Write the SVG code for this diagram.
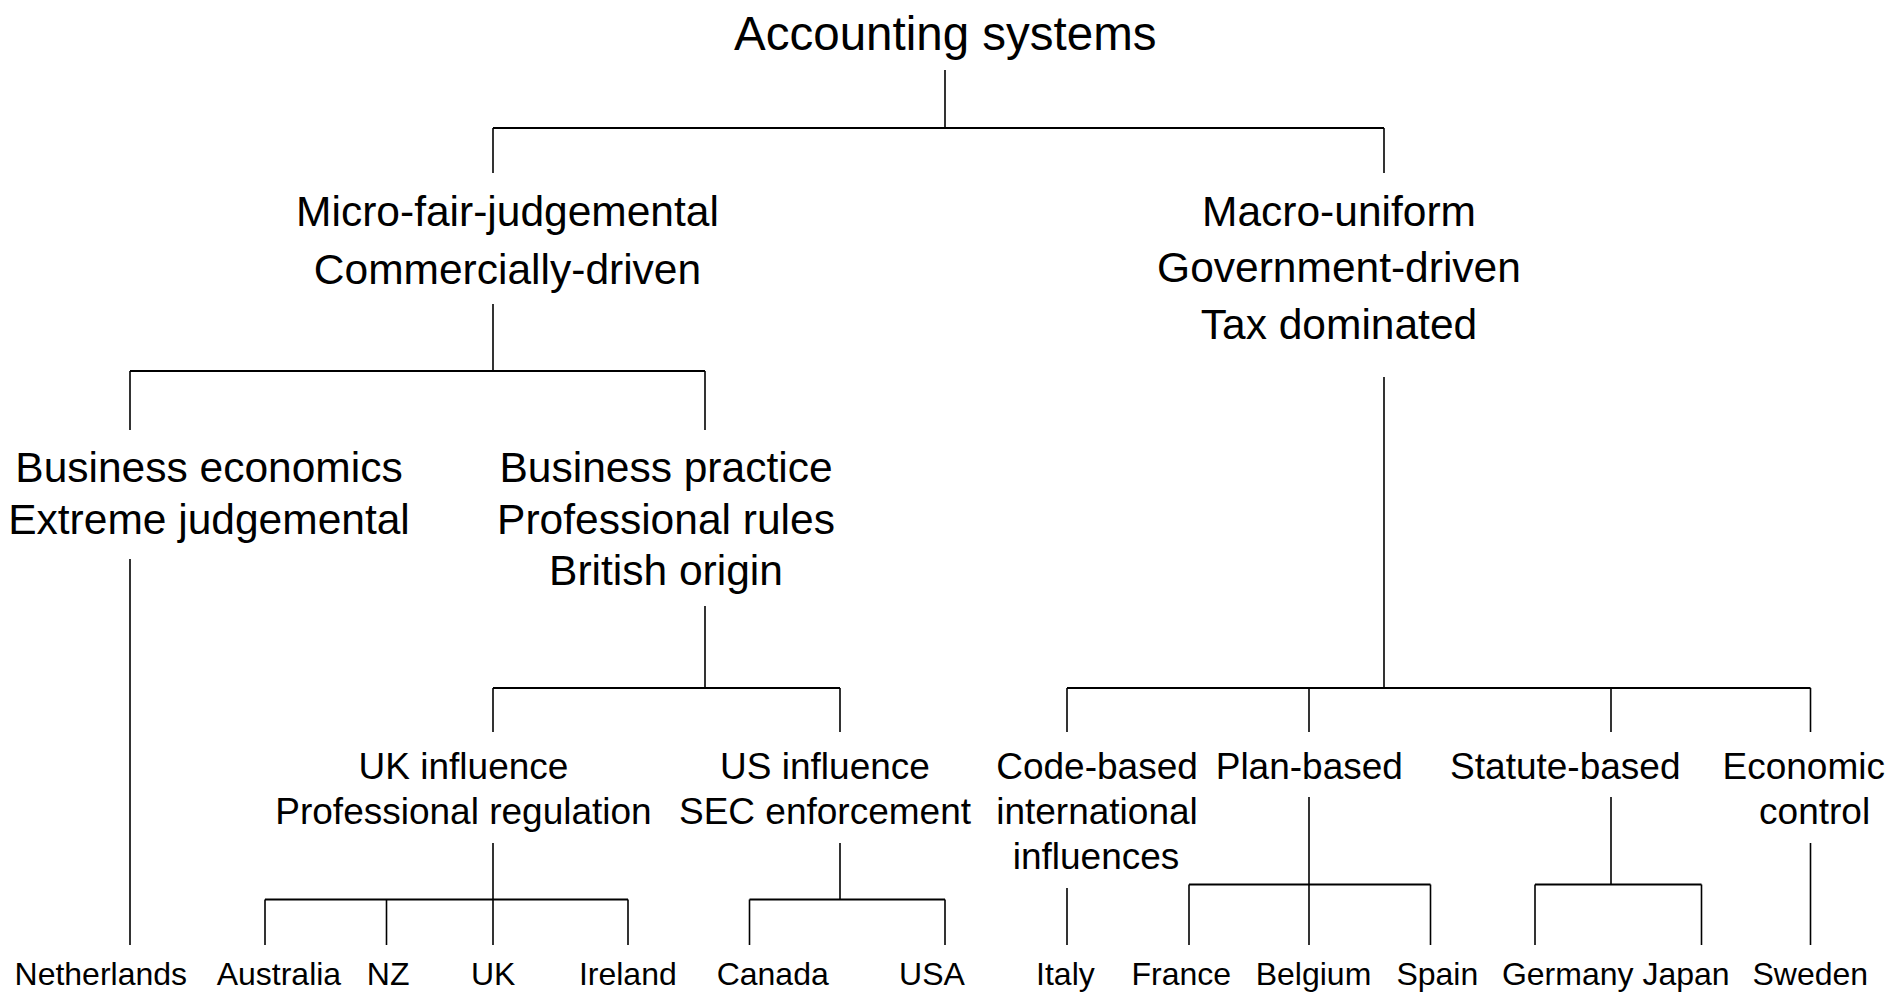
<svg xmlns="http://www.w3.org/2000/svg" width="1893" height="992" viewBox="0 0 1893 992">
  <style>
    text { font-family: "Liberation Sans", Arial, sans-serif; fill: #000; text-anchor: middle; }
    .t0 { font-size: 47.5px; }
    .t1 { font-size: 42.5px; }
    .t2 { font-size: 37px; }
    .t3 { font-size: 32px; }
    .h { stroke: #000; stroke-width: 2; fill: none; }
    .v { stroke: #000; stroke-width: 1.6; fill: none; }
  </style>
  <rect width="1893" height="992" fill="#fff"/>

  <!-- tree connectors -->
  <g id="connectors">
    <!-- root split -->
    <line class="v" x1="945" y1="70" x2="945" y2="128"/>
    <line class="h" x1="493" y1="128" x2="1384" y2="128"/>
    <line class="v" x1="493" y1="128" x2="493" y2="173"/>
    <line class="v" x1="1384" y1="128" x2="1384" y2="173"/>

    <!-- micro branch -->
    <line class="v" x1="493" y1="304" x2="493" y2="371"/>
    <line class="h" x1="130" y1="371" x2="705" y2="371"/>
    <line class="v" x1="130" y1="371" x2="130" y2="430"/>
    <line class="v" x1="705" y1="371" x2="705" y2="430"/>
    <line class="v" x1="130" y1="559" x2="130" y2="945"/>

    <!-- business practice branch -->
    <line class="v" x1="705" y1="606" x2="705" y2="688"/>
    <line class="h" x1="493" y1="688" x2="840" y2="688"/>
    <line class="v" x1="493" y1="688" x2="493" y2="732"/>
    <line class="v" x1="840" y1="688" x2="840" y2="732"/>

    <!-- UK influence -->
    <line class="v" x1="493" y1="843" x2="493" y2="899.5"/>
    <line class="h" x1="265" y1="899.5" x2="628" y2="899.5"/>
    <line class="v" x1="265" y1="899.5" x2="265" y2="945"/>
    <line class="v" x1="386.5" y1="899.5" x2="386.5" y2="945"/>
    <line class="v" x1="493" y1="899.5" x2="493" y2="945"/>
    <line class="v" x1="628" y1="899.5" x2="628" y2="945"/>

    <!-- US influence -->
    <line class="v" x1="840" y1="843" x2="840" y2="899.5"/>
    <line class="h" x1="749.5" y1="899.5" x2="945" y2="899.5"/>
    <line class="v" x1="749.5" y1="899.5" x2="749.5" y2="945"/>
    <line class="v" x1="945" y1="899.5" x2="945" y2="945"/>

    <!-- macro branch -->
    <line class="v" x1="1384" y1="377" x2="1384" y2="688"/>
    <line class="h" x1="1067" y1="688" x2="1810.5" y2="688"/>
    <line class="v" x1="1067" y1="688" x2="1067" y2="732"/>
    <line class="v" x1="1309" y1="688" x2="1309" y2="732"/>
    <line class="v" x1="1611" y1="688" x2="1611" y2="732"/>
    <line class="v" x1="1810.5" y1="688" x2="1810.5" y2="732"/>

    <!-- code-based -->
    <line class="v" x1="1067" y1="888" x2="1067" y2="945"/>

    <!-- plan-based -->
    <line class="v" x1="1309" y1="797" x2="1309" y2="945"/>
    <line class="h" x1="1189" y1="884.5" x2="1430.5" y2="884.5"/>
    <line class="v" x1="1189" y1="884.5" x2="1189" y2="945"/>
    <line class="v" x1="1430.5" y1="884.5" x2="1430.5" y2="945"/>

    <!-- statute-based -->
    <line class="v" x1="1611" y1="797" x2="1611" y2="884.5"/>
    <line class="h" x1="1535" y1="884.5" x2="1701.5" y2="884.5"/>
    <line class="v" x1="1535" y1="884.5" x2="1535" y2="945"/>
    <line class="v" x1="1701.5" y1="884.5" x2="1701.5" y2="945"/>

    <!-- economic control -->
    <line class="v" x1="1810.5" y1="843" x2="1810.5" y2="945"/>
  </g>

  <g id="root"><text class="t0" x="945.3" y="50">Accounting systems</text></g>

  <g id="micro">
    <text class="t1" x="507.5" y="225.5">Micro-fair-judgemental</text>
    <text class="t1" x="507.5" y="284">Commercially-driven</text>
  </g>
  <g id="macro">
    <text class="t1" x="1339" y="225.5">Macro-uniform</text>
    <text class="t1" x="1339" y="282">Government-driven</text>
    <text class="t1" x="1339" y="338.5">Tax dominated</text>
  </g>

  <g id="business-economics">
    <text class="t1" x="209" y="482">Business economics</text>
    <text class="t1" x="209" y="534">Extreme judgemental</text>
  </g>
  <g id="business-practice">
    <text class="t1" x="666" y="482">Business practice</text>
    <text class="t1" x="666" y="534">Professional rules</text>
    <text class="t1" x="666" y="585">British origin</text>
  </g>

  <g id="uk-influence">
    <text class="t2" x="463.5" y="779">UK influence</text>
    <text class="t2" x="463.5" y="824">Professional regulation</text>
  </g>
  <g id="us-influence">
    <text class="t2" x="825" y="779">US influence</text>
    <text class="t2" x="825" y="824">SEC enforcement</text>
  </g>
  <g id="code-based">
    <text class="t2" x="1097" y="779">Code-based</text>
    <text class="t2" x="1097" y="824">international</text>
    <text class="t2" x="1096" y="868.5">influences</text>
  </g>
  <g id="plan-based"><text class="t2" x="1309.3" y="779">Plan-based</text></g>
  <g id="statute-based"><text class="t2" x="1565.3" y="779">Statute-based</text></g>
  <g id="economic-control">
    <text class="t2" x="1803.7" y="779">Economic</text>
    <text class="t2" x="1814.6" y="824">control</text>
  </g>

  <g id="countries">
    <g id="netherlands"><text class="t3" x="100.8" y="985">Netherlands</text></g>
    <g id="australia"><text class="t3" x="278.9" y="985">Australia</text></g>
    <g id="nz"><text class="t3" x="388.1" y="985">NZ</text></g>
    <g id="uk"><text class="t3" x="493.2" y="985">UK</text></g>
    <g id="ireland"><text class="t3" x="627.8" y="985">Ireland</text></g>
    <g id="canada"><text class="t3" x="772.7" y="985">Canada</text></g>
    <g id="usa"><text class="t3" x="932" y="985">USA</text></g>
    <g id="italy"><text class="t3" x="1065.4" y="985">Italy</text></g>
    <g id="france"><text class="t3" x="1181.3" y="985">France</text></g>
    <g id="belgium"><text class="t3" x="1313.5" y="985">Belgium</text></g>
    <g id="spain"><text class="t3" x="1437.3" y="985">Spain</text></g>
    <g id="germany"><text class="t3" x="1567.7" y="985">Germany</text></g>
    <g id="japan"><text class="t3" x="1686" y="985">Japan</text></g>
    <g id="sweden"><text class="t3" x="1810.3" y="985">Sweden</text></g>
  </g>
</svg>
